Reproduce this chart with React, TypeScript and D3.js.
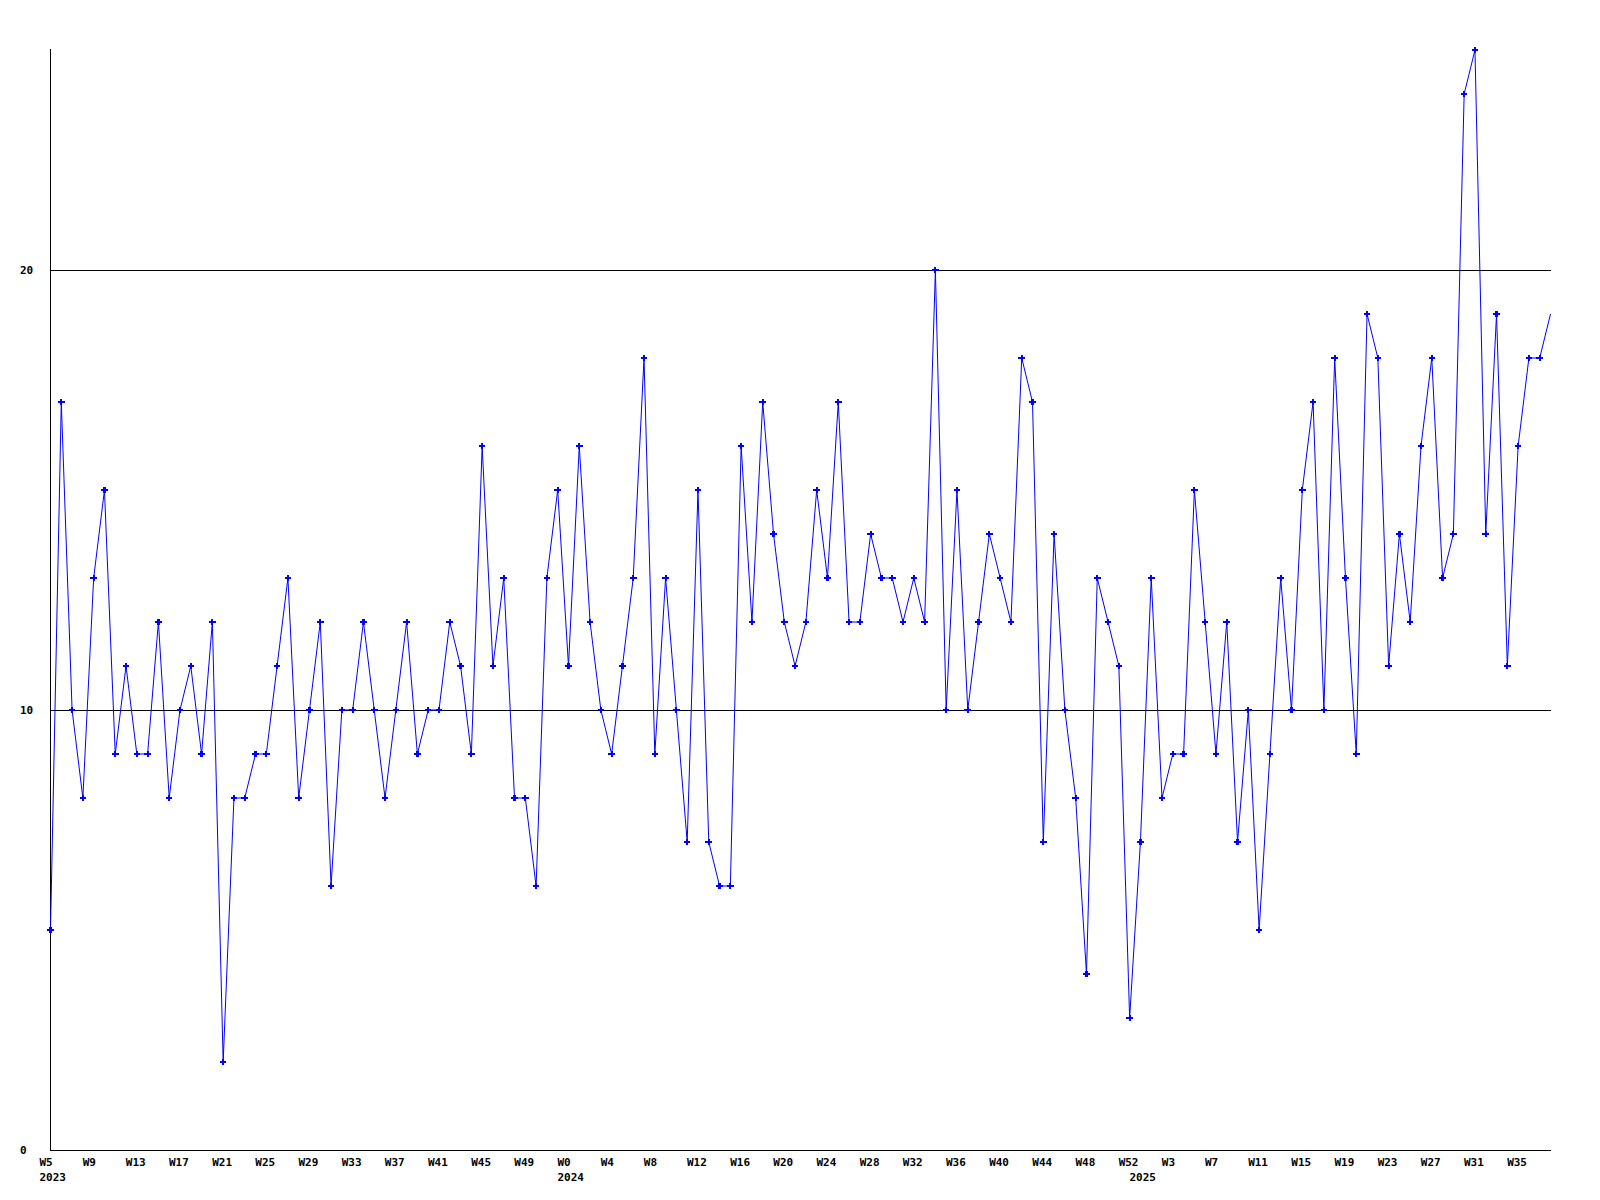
import React from "react";
import * as d3 from "d3";

// Weekly values, 2023 W5 .. 2025 W38
const values: number[] = [
  5, 17, 10, 8, 13, 15, 9, 11, 9, 9,
  12, 8, 10, 11, 9, 12, 2, 8, 8, 9,
  9, 11, 13, 8, 10, 12, 6, 10, 10, 12,
  10, 8, 10, 12, 9, 10, 10, 12, 11, 9,
  16, 11, 13, 8, 8, 6, 13, 15, 11, 16,
  12, 10, 9, 11, 13, 18, 9, 13, 10, 7,
  15, 7, 6, 6, 16, 12, 17, 14, 12, 11,
  12, 15, 13, 17, 12, 12, 14, 13, 13, 12,
  13, 12, 20, 10, 15, 10, 12, 14, 13, 12,
  18, 17, 7, 14, 10, 8, 4, 13, 12, 11,
  3, 7, 13, 8, 9, 9, 15, 12, 9, 12,
  7, 10, 5, 9, 13, 10, 15, 17, 10, 18,
  13, 9, 19, 18, 11, 14, 12, 16, 18, 13,
  14, 24, 25, 14, 19, 11, 16, 18, 18, 19,
];

// x tick labels, one every 4 weeks starting at index 0
const weekTickLabels: string[] = [
  "W5", "W9", "W13", "W17", "W21", "W25", "W29", "W33", "W37", "W41", "W45", "W49",
  "W0", "W4", "W8", "W12", "W16", "W20", "W24", "W28", "W32", "W36", "W40", "W44", "W48", "W52",
  "W3", "W7", "W11", "W15", "W19", "W23", "W27", "W31", "W35",
];
const tickStep = 4;

// year labels at the first week of each year
const yearLabels: string[] = ["2023", "2024", "2025"];
const yearStartIndex: number[] = [0, 48, 101];

const yTicks: number[] = [0, 10, 20];
const yMax = 25;

const W = 1600;
const H = 1200;
const left = 50.5;
const right = 1550.5;
const top = 50;
const bottom = 1150;

export default function App() {
  const x = d3.scaleLinear().domain([0, values.length - 1]).range([left, right]);
  const y = d3.scaleLinear().domain([0, yMax]).range([bottom, top]);
  const line = d3
    .line<number>()
    .x((_, i) => x(i))
    .y((d) => y(d));
  const cross = d3.symbol().type(d3.symbolCross).size(24)();
  const font = "'DejaVu Sans Mono', monospace";

  return (
    <svg
      width={W}
      height={H}
      style={{ position: "absolute", left: 0, top: 0, background: "#fff" }}
      shapeRendering="crispEdges"
    >
      <rect x={0} y={0} width={W} height={H} fill="#fff" />
      {/* grid lines */}
      {yTicks.map((t) => (
        <line key={"g" + t} x1={left} x2={right} y1={Math.round(y(t)) + 0.5} y2={Math.round(y(t)) + 0.5} stroke="#000" strokeWidth={1} />
      ))}
      {/* left axis */}
      <line x1={left} x2={left} y1={top - 1} y2={bottom + 0.5} stroke="#000" strokeWidth={1} />
      {/* y labels */}
      {yTicks.map((t) => (
        <text key={"yl" + t} x={20} y={y(t) + 4} fontFamily={font} fontWeight="bold" fontSize={11} fill="#000">
          {t}
        </text>
      ))}
      {/* x labels */}
      {weekTickLabels.map((lab, k) => (
        <text key={"xl" + k} x={x(k * tickStep) - 11} y={1165.5} fontFamily={font} fontWeight="bold" fontSize={11} fill="#000">
          {lab}
        </text>
      ))}
      {yearLabels.map((lab, k) => (
        <text key={"yr" + k} x={x(yearStartIndex[k]) - 11} y={1181} fontFamily={font} fontWeight="bold" fontSize={11} fill="#000">
          {lab}
        </text>
      ))}
      {/* data line */}
      <path d={line(values) || ""} fill="none" stroke="#0000ff" strokeWidth={1} shapeRendering="auto" />
      {values.slice(0, values.length - 1).map((v, i) => (
        <path key={"m" + i} d={cross || ""} transform={`translate(${x(i)},${y(v)})`} fill="#0000ff" />
      ))}
    </svg>
  );
}
